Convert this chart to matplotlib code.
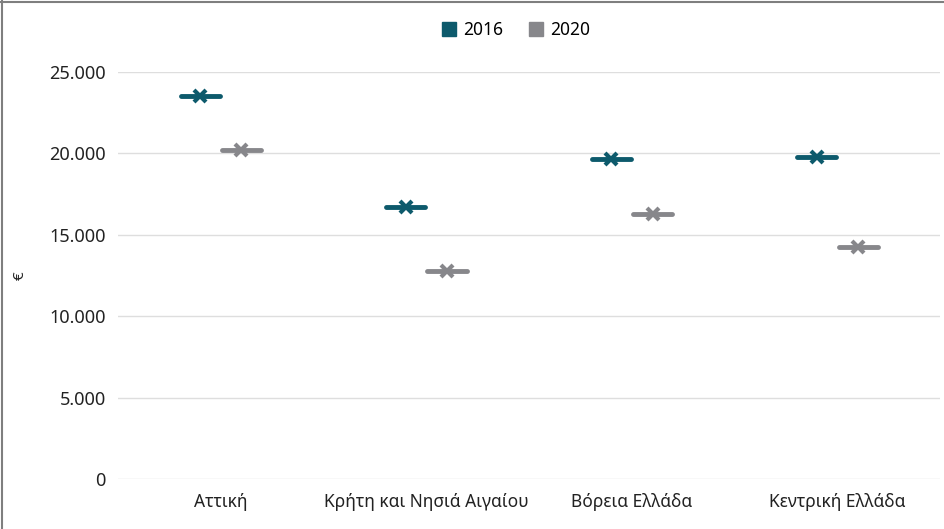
import matplotlib.pyplot as plt
from matplotlib.lines import Line2D

regions = ['Αττική', 'Κρήτη και Νησιά Αιγαίου', 'Βόρεια Ελλάδα', 'Κεντρική Ελλάδα']
values_2016 = [23500, 16700, 19650, 19800]
values_2020 = [20200, 12750, 16250, 14250]
yticks = [0, 5000, 10000, 15000, 20000, 25000]
ytick_labels = ['0', '5.000', '10.000', '15.000', '20.000', '25.000']

c2016 = '#0d5a6c'
c2020 = '#87878b'

plt.rcParams['font.family'] = ['Noto Sans', 'DejaVu Sans']

fig = plt.figure(figsize=(9.45, 5.29), dpi=100)
ax = fig.add_axes([0.125, 0.0945, 0.87, 0.7695])

x = list(range(len(regions)))
x16 = [i - 0.1 for i in x]
x20 = [i + 0.1 for i in x]

for xs, ys, col in [(x16, values_2016, c2016), (x20, values_2020, c2020)]:
    ax.hlines(ys, [v - 0.095 for v in xs], [v + 0.095 for v in xs],
              colors=col, linewidth=3.5, capstyle='round')
    ax.plot(xs, ys, linestyle='none', marker='x', markersize=9,
            markeredgewidth=3, color=col)

ax.set_xlim(-0.5, 3.5)
ax.set_ylim(0, 25000)
ax.set_yticks(yticks)
ax.set_yticklabels(ytick_labels, fontsize=13, color='#222222')
ax.set_xticks(x)
ax.set_xticklabels(regions, fontsize=12.5, color='#222222')
ax.tick_params(axis='both', length=0)
ax.tick_params(axis='y', pad=9)
ax.tick_params(axis='x', pad=10)
ax.grid(axis='y', color='#dedede', linewidth=1)
ax.set_axisbelow(True)
for s in ax.spines.values():
    s.set_visible(False)

ax.set_ylabel('€', fontsize=11, color='#222222')
ax.yaxis.set_label_coords(-0.11, 0.5)

handles = [Line2D([], [], linestyle='none', marker='s', markersize=10, color=c2016),
           Line2D([], [], linestyle='none', marker='s', markersize=10, color=c2020)]
fig.legend(handles, ['2016', '2020'], loc='center', bbox_to_anchor=(0.545, 0.943),
           ncol=2, frameon=False, fontsize=12.5, handletextpad=0.3,
           columnspacing=1.4, handlelength=1.0)

# outer frame lines (top and left)
fig.add_artist(Line2D([0, 1], [0.996, 0.996], transform=fig.transFigure,
                      color='#7f7f7f', linewidth=1.5))
fig.add_artist(Line2D([0.002, 0.002], [0, 1], transform=fig.transFigure,
                      color='#7f7f7f', linewidth=1.5))

fig.savefig('out.png', dpi=100)
